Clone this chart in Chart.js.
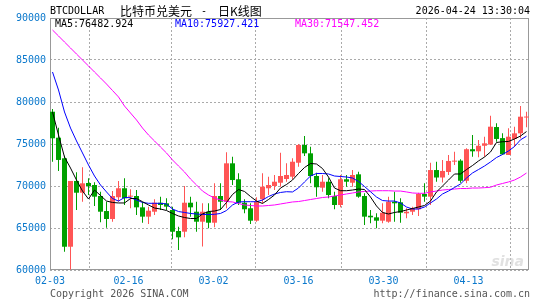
<!DOCTYPE html>
<html>
<head>
<meta charset="utf-8">
<script src="https://cdn.jsdelivr.net/npm/chart.js@4.4.1/dist/chart.umd.min.js"></script>
<style>
html, body { margin: 0; padding: 0; background: #fff; }
#kline { display: block; }
</style>
</head>
<body>
<canvas id="kline" width="545" height="300"></canvas>
<script>
// daily candles 02-03 .. 04-24 (index 0..79)
var opens = [78845,75750,73300,62770,70600,69200,70360,70120,68810,67020,
  66070,68660,69730,68730,68810,67460,66350,66940,68010,67940,
  67140,64640,64560,68010,66940,65750,66940,65630,68810,68130,
  72700,70800,68010,67350,65870,68420,69730,70000,70390,70830,
  71110,72770,74880,73890,71190,69800,70510,68810,67740,70800,
  70390,71390,68810,66460,66270,65870,65750,68130,68060,66750,
  66940,67230,69050,68730,71900,71010,71670,72900,73020,70620,
  74380,74130,74790,74930,77020,75700,73690,75600,76270,78150];
var highs = [79170,76940,73610,70600,71630,72230,70920,70440,69320,68130,
  69400,70600,70920,69610,69520,68130,67540,68420,68730,68540,
  67540,65160,70000,68730,68130,67940,67940,70320,70320,74010,
  73490,71510,68420,67940,68660,71510,71110,71310,73960,72700,
  73300,75000,75950,74680,71580,71310,70920,69320,71310,71310,
  71900,71700,69130,67140,66750,67940,68730,69320,68540,67350,
  67540,69200,70320,72770,72890,73100,73690,74080,73180,74490,
  76070,75480,75870,78360,77460,76270,76870,77060,79520,78850];
var lows = [72890,71790,62180,60050,67140,68130,68930,67620,65680,65040,
  65750,68130,67740,67350,66550,65630,65480,66550,67140,67140,
  63660,62380,63890,66350,64560,62800,64960,65080,67140,67350,
  70120,67740,66750,65480,65750,67940,68930,69520,69920,70510,
  70800,72300,73570,70320,68730,69320,68540,67230,67460,69920,
  69920,68600,65360,65560,64960,65560,65630,65750,65630,66150,
  66550,66430,68130,67740,70510,70420,71310,72500,70390,70320,
  73490,73420,73490,74880,75270,73690,73690,74680,75680,76990];
var closes = [75680,73100,62770,70600,69200,70320,70000,68730,66940,66070,
  68810,69730,68540,68850,67460,66350,67060,68010,67740,67540,
  64560,63890,68010,67460,65750,66940,65630,68810,68130,72700,
  70710,68010,67230,65870,68130,69920,70120,70510,71190,71310,
  72890,74880,73890,71190,69850,70510,68930,67740,70800,70510,
  71310,68730,66350,66270,65870,66820,68130,67940,66820,66940,
  67350,69050,68730,71900,71010,71790,72980,73020,70620,74380,
  74130,74790,75080,77060,75600,73770,75870,76270,78250,78250];

var ma5 = [78810,76070,73450,72140,70710,69400,68450,69520,68870,68210,
  68040,67980,67980,68510,68510,68130,67740,67380,67260,67080,
  66730,66430,66250,66130,66130,66670,66960,67020,67200,68040,
  68990,69580,69350,68750,68210,67920,68390,68930,69760,70180,
  70710,71490,72200,72680,72620,72080,71070,69760,69440,69440,
  69520,69640,69580,68690,67620,66850,66670,66850,66960,67140,
  67320,67500,67680,68210,69290,70000,70710,71430,71430,71960,
  72440,72980,73450,74050,75180,75270,75300,75600,75950,76483];
var ma10 = [83570,81430,78810,76900,75360,73930,72500,71190,70120,69290,
  68510,68210,68630,68610,68330,68040,67940,67940,67940,67860,
  67260,66960,66850,66730,66670,66610,66610,66630,66730,67080,
  67740,68100,68130,68130,68130,68330,68750,69050,69230,69320,
  69290,69760,70480,71190,71490,71490,71430,71190,71130,71070,
  70950,70540,69940,69320,68690,68270,68210,68210,67980,67500,
  67260,67260,67500,67980,68450,69050,69400,69820,70240,70950,
  71550,71960,72380,72860,73390,73750,74170,74700,75500,75927];
var ma30 = [88570,87860,87140,86430,85710,85000,84290,83570,82860,82140,
  81370,80600,79520,78690,77860,76900,76070,75360,74640,73930,
  73100,72380,71670,70830,70120,69400,68930,68570,68330,68150,
  68100,67920,67740,67680,67620,67620,67680,67740,67860,67980,
  68100,68150,68270,68390,68510,68630,68690,68810,68930,69050,
  69170,69290,69350,69400,69440,69440,69440,69400,69400,69290,
  69170,69130,69130,69290,69400,69520,69580,69640,69700,69700,
  69760,69760,69800,69850,70120,70300,70480,70710,71070,71547];

var tickPos = [-0.4167, 12.667, 26.833, 41.0, 55.167, 69.333];
var tickLabels = ['02-03', '02-16', '03-02', '03-16', '03-30', '04-13'];
var maNames = ['MA5:76482.924', 'MA10:75927.421', 'MA30:71547.452'];

var upColor = '#ff5555';
var downColor = '#00a000';
var labelBlue = '#0a78cc';
var mono = '"DejaVu Sans Mono", monospace';

var candleColors = closes.map(function (c, i) { return c >= opens[i] ? upColor : downColor; });
var bodies = opens.map(function (o, i) { return { x: i, y: [o, closes[i]] }; });
var wicks = opens.map(function (o, i) { return { x: i, y: [lows[i], highs[i]] }; });
function linePts(arr) {
  return arr.map(function (v, i) { return { x: i, y: v }; });
}

var decor = {
  id: 'decor',
  beforeDatasetsDraw: function (chart) {
    var a = chart.chartArea, ctx = chart.ctx;
    ctx.save();
    ctx.strokeStyle = '#999';
    ctx.lineWidth = 1;
    ctx.strokeRect(a.left + 0.5, a.top + 0.5, a.right - a.left - 1, a.bottom - a.top - 1);
    ctx.restore();
  },
  afterDraw: function (chart) {
    var ctx = chart.ctx;
    ctx.save();
    ctx.textBaseline = 'middle';
    ctx.fillStyle = '#000';
    ctx.font = '10px ' + mono;
    ctx.textAlign = 'left';
    ctx.fillText('BTCDOLLAR', 50, 11.5);
    ctx.font = '12px "Noto Sans CJK SC"';
    ctx.fillText('比特币兑美元', 120, 11.5);
    ctx.fillText('日K线图', 218, 11.5);
    ctx.font = '10px ' + mono;
    ctx.fillText('-', 201, 11.5);
    ctx.textAlign = 'right';
    ctx.fillText('2026-04-24 13:30:04', 530, 11.5);

    // MA legend inside plot
    ctx.textAlign = 'left';
    ctx.fillStyle = '#000';
    ctx.fillText(maNames[0], 55, 24.5);
    ctx.fillStyle = '#0000ff';
    ctx.fillText(maNames[1], 175, 24.5);
    ctx.fillStyle = '#ff00ff';
    ctx.fillText(maNames[2], 295, 24.5);

    // footer
    ctx.fillStyle = '#555';
    ctx.fillText('Copyright 2026 SINA.COM', 50, 294);
    ctx.textAlign = 'right';
    ctx.fillText('http://finance.sina.com.cn', 530, 294);

    // faint watermark
    ctx.font = 'italic bold 14px "DejaVu Sans"';
    ctx.fillStyle = 'rgba(205,205,205,0.6)';
    ctx.fillText('sina', 524, 262);
    ctx.restore();
  }
};

var ctx = document.getElementById('kline').getContext('2d');
var chart = new Chart(ctx, {
  type: 'bar',
  data: {
    datasets: [
      { type: 'line', label: 'MA5', data: linePts(ma5), borderColor: '#000', borderWidth: 1,
        pointRadius: 0, tension: 0, order: 0 },
      { type: 'line', label: 'MA10', data: linePts(ma10), borderColor: '#0000ff', borderWidth: 1,
        pointRadius: 0, tension: 0, order: 0 },
      { type: 'line', label: 'MA30', data: linePts(ma30), borderColor: '#ff00ff', borderWidth: 1,
        pointRadius: 0, tension: 0, order: 0 },
      { label: 'body', data: bodies, backgroundColor: candleColors, borderWidth: 0,
        barThickness: 5, minBarLength: 1, grouped: false, inflateAmount: 0, order: 1 },
      { label: 'wick', data: wicks, backgroundColor: candleColors, borderWidth: 0,
        barThickness: 1, grouped: false, inflateAmount: 0, order: 2 }
    ]
  },
  options: {
    responsive: false,
    animation: false,
    devicePixelRatio: 1,
    events: [],
    layout: { padding: { left: 0, right: 16, top: 18, bottom: 0 } },
    plugins: { legend: { display: false }, tooltip: { enabled: false } },
    scales: {
      x: {
        type: 'linear',
        min: -2.5 / 6,
        max: -2.5 / 6 + 479 / 6,
        offset: false,
        grid: { color: '#aaa', drawTicks: false },
        border: { display: false, dash: [2, 2] },
        afterBuildTicks: function (scale) {
          scale.ticks = tickPos.map(function (v) { return { value: v }; });
        },
        afterFit: function (scale) { scale.height = 30; },
        ticks: {
          autoSkip: false, maxRotation: 0, padding: 5, color: labelBlue,
          font: { family: mono, size: 10 },
          callback: function (v, idx) { return tickLabels[idx]; }
        }
      },
      y: {
        min: 60000,
        max: 90000,
        grid: { color: '#aaa', drawTicks: false },
        border: { display: false, dash: [2, 2] },
        afterFit: function (scale) { scale.width = 50; },
        ticks: {
          stepSize: 5000, padding: 4, color: labelBlue,
          font: { family: mono, size: 10 },
          callback: function (v) { return String(v); }
        }
      }
    }
  },
  plugins: [decor]
});
</script>
</body>
</html>
